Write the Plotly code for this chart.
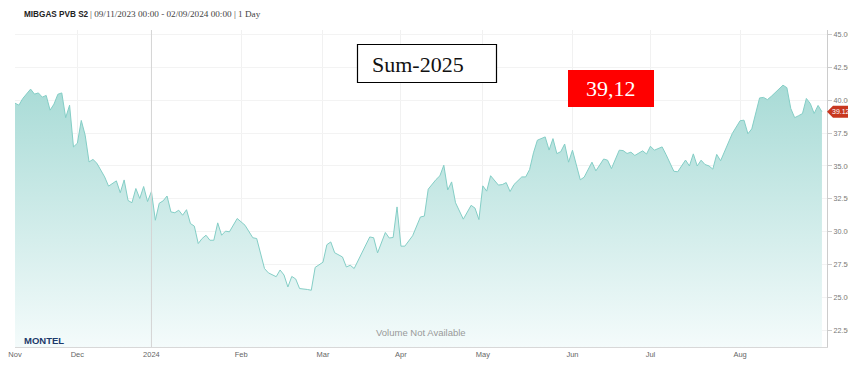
import plotly.graph_objects as go

# ---------------- data ----------------
dates = [
    "2023-11-09", "2023-11-10", "2023-11-13", "2023-11-15", "2023-11-16", "2023-11-17", "2023-11-20",
    "2023-11-21", "2023-11-22", "2023-11-23", "2023-11-24", "2023-11-27", "2023-11-28", "2023-11-29", "2023-11-30",
    "2023-12-01", "2023-12-04", "2023-12-05", "2023-12-06", "2023-12-07", "2023-12-08", "2023-12-12", "2023-12-13",
    "2023-12-15", "2023-12-18", "2023-12-19", "2023-12-20", "2023-12-21", "2023-12-22", "2023-12-27", "2023-12-28",
    "2023-12-29",
    "2024-01-01", "2024-01-02", "2024-01-03", "2024-01-04", "2024-01-05", "2024-01-08", "2024-01-09", "2024-01-10",
    "2024-01-11", "2024-01-12", "2024-01-15", "2024-01-16", "2024-01-17", "2024-01-18", "2024-01-19", "2024-01-22",
    "2024-01-23", "2024-01-24", "2024-01-25", "2024-01-26", "2024-01-29", "2024-01-31",
    "2024-02-02", "2024-02-06", "2024-02-07", "2024-02-09", "2024-02-12", "2024-02-14", "2024-02-15", "2024-02-16",
    "2024-02-19", "2024-02-20", "2024-02-21", "2024-02-22", "2024-02-26", "2024-02-27", "2024-02-28",
    "2024-03-01", "2024-03-04", "2024-03-05", "2024-03-06", "2024-03-08", "2024-03-11", "2024-03-12", "2024-03-13",
    "2024-03-15", "2024-03-19", "2024-03-20", "2024-03-21", "2024-03-25", "2024-03-26", "2024-03-27", "2024-03-28",
    "2024-04-02", "2024-04-03", "2024-04-05", "2024-04-09", "2024-04-10", "2024-04-11", "2024-04-15", "2024-04-16",
    "2024-04-17", "2024-04-18", "2024-04-19", "2024-04-22", "2024-04-24", "2024-04-26", "2024-04-29", "2024-04-30",
    "2024-05-01", "2024-05-02", "2024-05-03", "2024-05-07", "2024-05-08", "2024-05-09", "2024-05-10", "2024-05-13",
    "2024-05-15", "2024-05-16", "2024-05-17", "2024-05-20", "2024-05-21", "2024-05-23", "2024-05-24", "2024-05-27",
    "2024-05-28", "2024-05-29", "2024-05-30", "2024-05-31",
    "2024-06-03", "2024-06-05", "2024-06-06", "2024-06-10", "2024-06-11", "2024-06-13", "2024-06-14", "2024-06-17",
    "2024-06-19", "2024-06-20", "2024-06-21", "2024-06-24", "2024-06-25", "2024-06-26", "2024-06-27", "2024-06-28",
    "2024-07-01", "2024-07-02", "2024-07-04", "2024-07-05", "2024-07-09", "2024-07-10", "2024-07-12", "2024-07-15",
    "2024-07-16", "2024-07-17", "2024-07-18", "2024-07-19", "2024-07-22", "2024-07-23", "2024-07-24", "2024-07-25",
    "2024-07-30",
    "2024-08-01", "2024-08-02", "2024-08-05", "2024-08-06", "2024-08-08", "2024-08-09", "2024-08-12", "2024-08-13",
    "2024-08-16", "2024-08-19", "2024-08-20", "2024-08-21", "2024-08-22", "2024-08-23", "2024-08-26", "2024-08-27",
    "2024-08-28", "2024-08-29", "2024-08-30",
]

prices = [
    39.77, 39.62, 40.13, 40.84, 40.46, 40.55, 40.23, 40.36, 39.24, 39.70, 40.45, 40.55, 38.67, 39.62, 36.45,
    36.73, 38.46, 37.34, 35.31, 35.50, 35.21, 34.17, 33.47, 33.87, 32.97, 33.94, 32.38, 32.21, 33.29, 32.53, 33.44,
    32.30,
    33.06, 30.88, 32.17, 32.35, 32.72, 31.51, 31.45, 31.64, 31.26, 31.68, 30.63, 30.43, 29.11, 29.49, 29.74, 29.36,
    29.36, 30.68, 29.74, 30.05, 30.00, 31.01,
    30.50, 29.55, 29.49, 27.21, 26.88, 26.59, 27.10, 26.72, 25.81, 26.61, 26.42, 25.69, 25.62, 25.56, 27.30,
    27.69, 29.02, 29.23, 28.41, 28.09, 27.33, 27.46, 27.21, 28.35, 29.61, 29.55, 28.40, 29.95, 29.53, 29.57, 31.89,
    28.91, 28.91, 29.70, 31.13, 31.19, 33.24, 33.97, 34.26, 35.06, 33.18, 33.79, 32.21, 30.96, 32.01, 31.80, 30.93,
    33.49, 33.09, 34.26, 33.55, 33.59, 33.74, 33.06, 33.59, 34.17, 34.17, 34.73, 36.00, 36.96, 37.21, 36.21, 37.08,
    35.94, 36.09, 36.67, 35.29,
    36.20, 33.95, 34.15, 35.29, 34.63, 35.53, 35.44, 34.80, 36.20, 36.17, 35.95, 36.05, 35.80, 35.98, 36.15, 35.91,
    36.50, 36.20, 36.45, 35.87, 34.60, 34.56, 35.45, 35.00, 35.92, 35.00, 35.44, 35.11, 35.01, 34.76, 35.88, 35.40,
    37.47,
    38.44, 38.48, 37.45, 37.82, 40.17, 40.21, 40.04, 40.29, 41.14, 40.95, 39.37, 38.67, 38.82, 38.98, 40.13, 39.75,
    38.99, 39.60, 39.12,
]

holidays = ["2023-12-25", "2023-12-26", "2024-03-29", "2024-04-01"]
month_ticks = ["2023-11-09", "2023-12-01", "2024-01-01", "2024-02-01", "2024-03-01", "2024-04-02",
               "2024-05-01", "2024-06-03", "2024-07-01", "2024-08-01"]
month_labels = ["Nov", "Dec", "2024", "Feb", "Mar", "Apr", "May", "Jun", "Jul", "Aug"]
y_ticks = [22.5, 25.0, 27.5, 30.0, 32.5, 35.0, 37.5, 40.0, 42.5, 45.0]

title_main = "MIBGAS PVB S2"
title_rest = "| 09/11/2023 00:00 - 02/09/2024 00:00 | 1 Day"
box_label = "Sum-2025"
last_label = "39,12"

# ---------------- layout geometry ----------------
# page has an 8px body margin, so the figure is drawn 8px in from the window edges
OFF = 8
W, H = 856 - OFF, 372 - OFF
PL, PR, PT, PB = 15, 827, 30, 347          # plot area in window pixels
Y_MIN, Y_MAX = 21.25, 45.33


def px(x):
    return (x - PL) / (PR - PL)


def py(y):
    return (PB - y) / (PB - PT)


LAST = prices[-1]

fig = go.Figure()
fig.add_trace(go.Scatter(
    x=dates, y=prices, mode="lines",
    line=dict(color="#84cec6", width=1),
    fill="tozeroy",
    fillgradient=dict(type="vertical",
                      colorscale=[[0, "#f4fbfb"], [1, "#a8dbd6"]],
                      start=Y_MIN, stop=41.2),
    hoverinfo="skip", showlegend=False,
))

fig.update_layout(
    width=W, height=H,
    margin=dict(l=PL - OFF, r=W - (PR - OFF), t=PT - OFF, b=H - (PB - OFF), pad=0, autoexpand=False),
    paper_bgcolor="white", plot_bgcolor="white",
    font=dict(family="Liberation Sans, Arial, sans-serif", color="#666"),
    xaxis=dict(
        type="date", automargin=False,
        range=["2023-11-09", "2024-09-02 07:00"],
        rangebreaks=[dict(bounds=["sat", "mon"]), dict(values=holidays)],
        tickmode="array", tickvals=month_ticks, ticktext=month_labels,
        tickfont=dict(size=7.5, color="#666"),
        ticks="", showgrid=True, gridcolor="#f1f1f1", gridwidth=1,
        showline=True, linecolor="#d8d8d8", linewidth=1,
        zeroline=False, fixedrange=True,
    ),
    yaxis=dict(
        side="right", range=[Y_MIN, Y_MAX], automargin=False,
        tickmode="array", tickvals=y_ticks,
        ticktext=[f"{v:.2f}" for v in y_ticks],
        tickfont=dict(size=7.2, color="#777"),
        ticks="outside", ticklen=4, tickcolor="#cccccc",
        showgrid=True, gridcolor="#f3f3f3", gridwidth=1,
        showline=True, linecolor="#cccccc", linewidth=1,
        zeroline=False, fixedrange=True,
    ),
)

shapes = [
    # year boundary line
    dict(type="line", xref="x", yref="paper", x0=month_ticks[2], x1=month_ticks[2], y0=0, y1=1,
         line=dict(color="#d4d4d4", width=1), layer="above"),
    # Sum-2025 box
    dict(type="rect", xref="paper", yref="paper",
         x0=px(357.5), x1=px(496.5), y0=py(82.5), y1=py(44.5),
         line=dict(color="black", width=1.2), fillcolor="white", layer="above"),
    # red value box
    dict(type="rect", xref="paper", yref="paper",
         x0=px(568), x1=px(654), y0=py(107), y1=py(70),
         line=dict(width=0), fillcolor="#ff0000", layer="above"),
    # last-price pointer on right axis
    dict(type="path", xref="paper", yref="y",
         path=(f"M {px(827)},{LAST} L {px(833)},{LAST + 0.45} L {px(849)},{LAST + 0.45} "
               f"L {px(849)},{LAST - 0.45} L {px(833)},{LAST - 0.45} Z"),
         line=dict(width=0), fillcolor="#c8371f", layer="above"),
]

annotations = [
    dict(text=f"<b>{title_main}</b>", x=px(21.5), y=py(14), xref="paper", yref="paper",
         xanchor="left", yanchor="middle", showarrow=False,
         font=dict(family="Liberation Sans, Arial", size=8.2, color="#222")),
    dict(text=title_rest, x=px(87.5), y=py(14), xref="paper", yref="paper",
         xanchor="left", yanchor="middle", showarrow=False,
         font=dict(family="Liberation Serif, Georgia, serif", size=9.2, color="#444")),
    dict(text=box_label, x=px(417.5), y=py(65), xref="paper", yref="paper",
         xanchor="center", yanchor="middle", showarrow=False,
         font=dict(family="Liberation Serif, Cambria, serif", size=22, color="#111")),
    dict(text=last_label, x=px(611), y=py(89), xref="paper", yref="paper",
         xanchor="center", yanchor="middle", showarrow=False,
         font=dict(family="Liberation Serif, Cambria, serif", size=22, color="white")),
    dict(text=f"{LAST:.2f}", x=px(841), y=LAST, xref="paper", yref="y",
         xanchor="center", yanchor="middle", showarrow=False,
         font=dict(family="Liberation Sans, Arial", size=7, color="white")),
    dict(text="Volume Not Available", x=px(421), y=py(332), xref="paper", yref="paper",
         xanchor="center", yanchor="middle", showarrow=False,
         font=dict(family="Liberation Sans Narrow, Liberation Sans, Arial", size=9.5, color="#999")),
    dict(text="<b>MONTEL</b>", x=px(21.5), y=py(340), xref="paper", yref="paper",
         xanchor="left", yanchor="middle", showarrow=False,
         font=dict(family="Liberation Sans, Arial", size=9.5, color="#1d3a6b")),
]

fig.update_layout(shapes=shapes, annotations=annotations)

fig.write_html("out.html")
